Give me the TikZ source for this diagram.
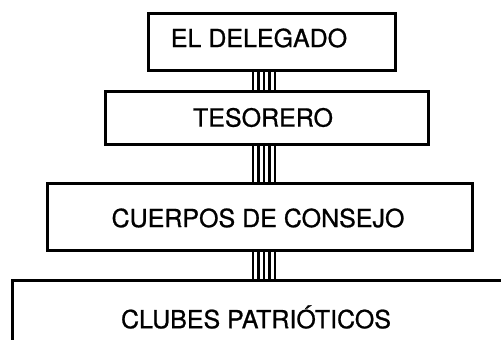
\documentclass[tikz,border=0pt]{standalone}
\usepackage{fontspec}
\setmainfont[FakeBold=0.8]{TeX Gyre Heros}
\begin{document}
\begin{tikzpicture}[x=1pt,y=-1pt,
  boxframe/.style={draw=black,line width=3pt,rectangle,inner sep=0pt},
  label/.style={font=\fontsize{25}{28}\selectfont,inner sep=0pt},
  bar/.style={line width=2.8pt,black}]
\useasboundingbox (0,0) rectangle (501,340);
% boxes
\node[boxframe,minimum width=247pt,minimum height=57pt] (b1) at (271.5,41.5) {};
\node[label] (t1) at (259,38) {EL DELEGADO};
\node[boxframe,minimum width=323pt,minimum height=53pt] (b2) at (266.5,117.5) {};
\node[label] (t2) at (263,117.5) {TESORERO};
\node[boxframe,minimum width=425pt,minimum height=67pt] (b3) at (259.5,216.5) {};
\node[label] (t3) at (258,218) {CUERPOS DE CONSEJO};
\coordinate (b4tl) at (12,280);
\coordinate (b4tr) at (505,280);
\coordinate (b4bl) at (12,345);
\draw[line width=3pt] (b4bl) -- (b4tl) -- (b4tr);
\node[label] (t4) at (256,317) {CLUBES PATRIÓTICOS};
% connectors
\foreach \x in {253,258.5,264,269.5,275}{
  \draw[bar] (b1.south -| \x,0) -- (b2.north -| \x,0);
  \draw[bar] (b2.south -| \x,0) -- (b3.north -| \x,0);
  \draw[bar] (b3.south -| \x,0) -- (b4tl -| \x,0);
}
\end{tikzpicture}
\end{document}
